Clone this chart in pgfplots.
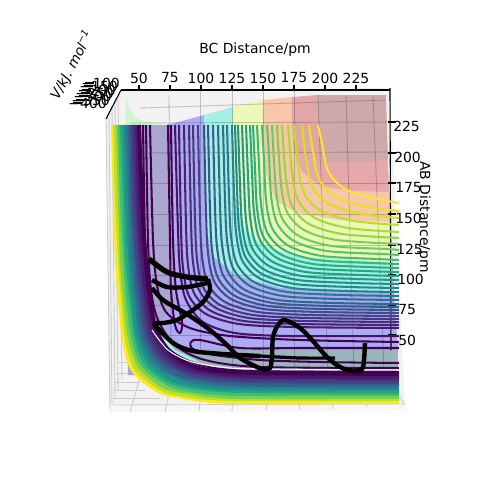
\documentclass[border=0pt]{standalone}
\usepackage{pgfplots}
\usepackage{fontspec}
\setmainfont{DejaVu Sans}
\pgfplotsset{compat=1.18}
% viridis, outer contour (yellow) to inner (purple)
\definecolor{c0}{HTML}{FDE725}\definecolor{c1}{HTML}{E8E419}\definecolor{c2}{HTML}{D2E21B}
\definecolor{c3}{HTML}{BDDF26}\definecolor{c4}{HTML}{A8DB34}\definecolor{c5}{HTML}{95D840}
\definecolor{c6}{HTML}{7AD151}\definecolor{c7}{HTML}{6ACD5B}\definecolor{c8}{HTML}{54C568}
\definecolor{c9}{HTML}{44BF70}\definecolor{c10}{HTML}{35B779}\definecolor{c11}{HTML}{2CB17E}
\definecolor{c12}{HTML}{22A884}\definecolor{c13}{HTML}{1FA088}\definecolor{c14}{HTML}{1F978B}
\definecolor{c15}{HTML}{21918C}\definecolor{c16}{HTML}{23898E}\definecolor{c17}{HTML}{26828E}
\definecolor{c18}{HTML}{2A788E}\definecolor{c19}{HTML}{2D708E}\definecolor{c20}{HTML}{31688E}
\definecolor{c21}{HTML}{355F8D}\definecolor{c22}{HTML}{39568C}\definecolor{c23}{HTML}{3D4E8A}
\definecolor{c24}{HTML}{414487}\definecolor{c25}{HTML}{453781}\definecolor{c26}{HTML}{472F7D}
\definecolor{c27}{HTML}{482475}\definecolor{c28}{HTML}{481B6D}\definecolor{c29}{HTML}{471365}
\definecolor{c30}{HTML}{440154}
\definecolor{bbase}{HTML}{A9A6D2}\definecolor{blav}{HTML}{AEABF5}\definecolor{bcyan}{HTML}{A4F0E4}
\definecolor{byel}{HTML}{ECF8B8}\definecolor{borg}{HTML}{F8C7A9}\definecolor{bpink}{HTML}{E6A8AA}
\definecolor{brose}{HTML}{CFA9A9}\definecolor{bteal}{HTML}{9AB5BB}\definecolor{btop}{HTML}{E0A6A8}
\definecolor{bgreen}{HTML}{CCF5D0}
\pgfplotsset{
  cont/.style={line width=1.4pt,smooth},
  wall/.style={line width=2.7pt,smooth},
  traj/.style={black,line width=3pt,smooth},
  wire/.style={black,opacity=0.2,line width=0.6pt},
  grey/.style={black!20,line width=0.6pt},
  ax/.style={black,line width=0.75pt},
}
\begin{document}
\begin{tikzpicture}
\path[use as bounding box] (0,0) rectangle (12cm,12cm);
\begin{axis}[
    at={(0,0)}, anchor=south west,
    scale only axis, width=12cm, height=12cm,
    xmin=0, xmax=500, ymin=0, ymax=500, y dir=reverse,
    hide axis, clip=false,
]
% panes
\addplot[fill=black!5,draw=none] coordinates {(121,90)(390,88)(405,404)(110,412)(106,120)} -- cycle;
\addplot[fill=black!3,draw=none] coordinates {(110,405)(405,404)(407,411)(110,412)} -- cycle;
% floor and wall grid
\addplot[grey] coordinates {(106,120)(110,410)};
\addplot[grey] coordinates {(109,114)(112,405)};
\addplot[grey] coordinates {(112,108)(115,398)};
\addplot[grey] coordinates {(115,102)(118,390)};
\addplot[grey] coordinates {(118,96)(122,380)};
\addplot[grey] coordinates {(113,405)(405,404)};
\addplot[grey] coordinates {(113,398)(160,398)};
\addplot[grey] coordinates {(114,390)(145,390)};
\addplot[grey] coordinates {(115,382)(140,382)};
\addplot[grey] coordinates {(116,373)(135,373)};
\addplot[grey] coordinates {(117,362)(130,362)};
\addplot[grey] coordinates {(130,412)(142,370)};
\addplot[grey] coordinates {(165,412)(170,388)};
\addplot[grey] coordinates {(199,411)(201,395)};
\addplot[grey] coordinates {(232,411)(233,398)};
\addplot[grey] coordinates {(266,410)(266,400)};
\addplot[grey] coordinates {(299,410)(299,400)};
\addplot[grey] coordinates {(333,409)(332,400)};
\addplot[grey] coordinates {(367,407)(366,400)};
\addplot[grey] coordinates {(399,396)(405,404)};
% surface behind the contours
\addplot[fill=bgreen,draw=none] coordinates {(126,96)(128,105)(133,115)(140,120)(150,123)(165,125)(126,125)} -- cycle;
\addplot[fill=blav,draw=none] coordinates {(165,125)(175,123)(204,115)(204,125)} -- cycle;
\addplot[fill=bcyan,draw=none] coordinates {(204,115)(233,107)(233,125)(204,125)} -- cycle;
\addplot[fill=byel,draw=none] coordinates {(233,107)(263,100)(263,125)(233,125)} -- cycle;
\addplot[fill=borg,draw=none] coordinates {(263,100)(292,97)(292,125)(263,125)} -- cycle;
% colour bands, each one the part above its level
\addplot[fill=bbase,draw=none] coordinates {(128,125)(386,125)(398,375)(128,375)} -- cycle;
\addplot[fill=blav,draw=none] coordinates {(172,125)(174,240)(176,300)(160,325)(185,350)(250,347)(398,347)(393,290)(389,200)(386,125)} -- cycle;
\addplot[fill=bteal,draw=none] coordinates {(185,353)(250,347)(398,347)(398,375)(200,375)} -- cycle;
\addplot[fill=bcyan,draw=none] coordinates {(155,325)(175,350)(200,362)(180,358)(165,345)} -- cycle;
\addplot[fill=bcyan,draw=none] coordinates {(204,125)(205,220)(212,255)(235,275)(280,288)(393,292)(389,200)(386,125)} -- cycle;
\addplot[fill=byel,draw=none] coordinates {(233,125)(234,190)(242,225)(262,245)(300,257)(392,262)(389,200)(386,125)} -- cycle;
\addplot[fill=borg,draw=none] coordinates {(263,125)(265,170)(275,200)(297,213)(340,220)(390,222)(389,200)(386,125)} -- cycle;
\addplot[fill=bpink,draw=none] coordinates {(292,125)(294,150)(302,172)(320,186)(355,191)(389,192)(386,125)} -- cycle;
\addplot[fill=brose,draw=none] coordinates {(318,95)(386,95)(388,160)(322,163)(318,125)} -- cycle;
\addplot[fill=btop,draw=none] coordinates {(292,97)(318,95)(318,125)(322,163)(294,150)(292,125)} -- cycle;
% wires of the surface
\addplot[wire] coordinates {(140,108)(386,100)};
\addplot[wire] coordinates {(130,123)(387,122)};
\addplot[wire] coordinates {(130,153)(388,152)};
\addplot[wire] coordinates {(130,183)(389,183)};
\addplot[wire] coordinates {(130,214)(390,214)};
\addplot[wire] coordinates {(130,245)(392,245)};
\addplot[wire] coordinates {(135,275)(393,275)};
\addplot[wire] coordinates {(140,305)(394,305)};
\addplot[wire] coordinates {(150,335)(395,335)};
\addplot[wire] coordinates {(169,95)(171,340)};
\addplot[wire] coordinates {(200,90)(200,350)};
\addplot[wire] coordinates {(232,90)(232,370)};
\addplot[wire] coordinates {(263,90)(263,372)};
\addplot[wire] coordinates {(294,90)(294,372)};
\addplot[wire] coordinates {(318,95)(328,372)};
\addplot[wire] coordinates {(346,95)(354,372)};
\addplot[wire] coordinates {(373,95)(384,372)};
% axis lines
\addplot[ax] coordinates {(121,90)(390,90)};
\addplot[ax] coordinates {(390,88)(391,350)};
\addplot[ax] coordinates {(121,90)(106,119)};
\addplot[ax] coordinates {(139,90)(139,85)};
\addplot[ax] coordinates {(170,90)(170,85)};
\addplot[ax] coordinates {(201,90)(201,85)};
\addplot[ax] coordinates {(232,90)(232,85)};
\addplot[ax] coordinates {(263,90)(263,85)};
\addplot[ax] coordinates {(294,90)(294,85)};
\addplot[ax] coordinates {(325,90)(325,85)};
\addplot[ax] coordinates {(356,90)(356,85)};
\addplot[ax] coordinates {(388,122)(396,122)};
\addplot[ax] coordinates {(388,153)(396,153)};
\addplot[ax] coordinates {(388,183)(396,183)};
\addplot[ax] coordinates {(388,214)(396,214)};
\addplot[ax] coordinates {(388,245)(396,245)};
\addplot[ax] coordinates {(388,275)(396,275)};
\addplot[ax] coordinates {(388,305)(396,305)};
\addplot[ax] coordinates {(388,335)(396,335)};
\addplot[ax] coordinates {(85,83)(94,83)};
\addplot[ax] coordinates {(84,86)(93,86)};
\addplot[ax] coordinates {(82,90)(91,90)};
\addplot[ax] coordinates {(81,93)(90,93)};
\addplot[ax] coordinates {(79,96)(88,96)};
\addplot[ax] coordinates {(76,100)(85,100)};
\addplot[ax] coordinates {(73,103)(82,103)};
% dense wall of contours
\addplot[wall,c0] coordinates {(113,125)(115,200)(117,260)(120,300)(124,340)(133,370)(157,390)(183,397)(233,402)(399,402)};
\addplot[wall,c3] coordinates {(115,125)(117,200)(120,259)(123,299)(127,339)(136,368)(160,388)(185,395)(235,399)(399,399)};
\addplot[wall,c6] coordinates {(118,125)(120,200)(122,258)(125,298)(130,338)(140,366)(163,386)(188,392)(237,397)(399,397)};
\addplot[wall,c9] coordinates {(120,125)(122,200)(125,257)(128,297)(133,337)(143,365)(166,383)(190,390)(239,394)(399,394)};
\addplot[wall,c12] coordinates {(122,125)(125,200)(127,256)(131,296)(136,336)(146,363)(169,381)(193,387)(241,391)(399,392)};
\addplot[wall,c15] coordinates {(125,125)(127,200)(130,255)(133,295)(138,335)(150,362)(172,379)(195,385)(243,389)(399,389)};
\addplot[wall,c18] coordinates {(127,125)(130,200)(132,255)(136,295)(141,335)(153,360)(175,376)(198,382)(245,386)(399,387)};
\addplot[wall,c21] coordinates {(130,125)(132,200)(135,254)(138,294)(144,334)(157,359)(178,374)(200,379)(247,384)(399,384)};
\addplot[wall,c24] coordinates {(132,125)(134,200)(137,253)(141,293)(147,333)(160,357)(181,371)(202,377)(249,381)(399,382)};
\addplot[wall,c26] coordinates {(134,125)(137,200)(140,252)(144,292)(150,332)(163,355)(184,369)(205,374)(251,378)(399,379)};
\addplot[wall,c28] coordinates {(137,125)(139,200)(142,251)(146,291)(153,331)(167,354)(187,367)(207,372)(253,376)(399,377)};
\addplot[wall,c30] coordinates {(139,125)(142,200)(145,250)(149,290)(156,330)(170,352)(190,365)(210,370)(255,373)(399,374)};
% L-shaped contours
\addplot[cont,c0] coordinates {(318,125)(322,143)(328,171)(345,189)(378,199)(399,203)};
\addplot[cont,c1] coordinates {(309,125)(313,151)(319,179)(336,197)(369,207)(399,211)};
\addplot[cont,c2] coordinates {(302,125)(306,158)(312,186)(329,204)(362,214)(399,218)};
\addplot[cont,c3] coordinates {(294,125)(298,165)(304,193)(321,211)(354,221)(399,225)};
\addplot[cont,c4] coordinates {(288,125)(292,172)(298,200)(315,218)(348,228)(399,232)};
\addplot[cont,c5] coordinates {(282,125)(286,178)(292,206)(309,224)(342,234)(399,238)};
\addplot[cont,c6] coordinates {(277,125)(281,184)(287,212)(304,230)(337,240)(399,244)};
\addplot[cont,c7] coordinates {(272,125)(276,190)(282,218)(299,236)(332,246)(387,249)(399,250)};
\addplot[cont,c8] coordinates {(267,125)(269,155)(271,195)(277,223)(294,241)(327,251)(382,254)(399,255)};
\addplot[cont,c9] coordinates {(262,125)(264,160)(266,200)(272,228)(289,246)(322,256)(377,259)(399,260)};
\addplot[cont,c10] coordinates {(257,125)(259,164)(261,204)(267,232)(284,250)(317,260)(372,263)(399,264)};
\addplot[cont,c11] coordinates {(253,125)(255,168)(257,208)(263,236)(280,254)(313,264)(368,267)(399,268)};
\addplot[cont,c12] coordinates {(250,125)(252,172)(254,212)(260,240)(277,258)(310,268)(365,271)(399,272)};
\addplot[cont,c13] coordinates {(246,125)(248,176)(250,216)(256,244)(273,262)(306,272)(361,275)(399,276)};
\addplot[cont,c14] coordinates {(242,125)(244,180)(246,220)(252,248)(269,266)(302,276)(357,279)(399,280)};
\addplot[cont,c15] coordinates {(238,125)(240,184)(242,224)(248,252)(265,270)(298,280)(353,283)(399,284)};
\addplot[cont,c16] coordinates {(235,125)(237,188)(239,228)(245,256)(262,274)(295,284)(350,287)(399,288)};
\addplot[cont,c17] coordinates {(232,125)(234,192)(236,232)(242,260)(259,278)(292,288)(347,291)(399,292)};
\addplot[cont,c18] coordinates {(227,125)(229,196)(231,236)(237,264)(254,282)(287,292)(342,295)(399,296)};
\addplot[cont,c19] coordinates {(223,125)(225,200)(227,240)(233,268)(250,286)(283,296)(338,299)(399,300)};
\addplot[cont,c20] coordinates {(218,125)(220,204)(222,244)(228,272)(245,290)(278,300)(333,303)(399,304)};
\addplot[cont,c21] coordinates {(213,125)(215,207)(217,247)(223,275)(240,293)(273,303)(328,306)(399,307)};
\addplot[cont,c22] coordinates {(208,125)(210,210)(212,250)(218,278)(235,296)(268,306)(323,309)(399,310)};
\addplot[cont,c23] coordinates {(204,125)(206,213)(208,253)(214,281)(231,299)(264,309)(319,312)(399,313)};
\addplot[cont,c24] coordinates {(198,125)(200,216)(202,256)(208,284)(225,302)(258,312)(313,315)(399,316)};
\addplot[cont,c25] coordinates {(193,125)(195,219)(197,259)(203,287)(220,305)(253,315)(308,318)(399,319)};
\addplot[cont,c26] coordinates {(189,125)(191,222)(193,262)(199,290)(216,308)(249,318)(304,321)(399,322)};
\addplot[cont,c27] coordinates {(184,125)(186,225)(188,265)(194,293)(211,311)(244,321)(299,324)(399,325)};
\addplot[cont,c28] coordinates {(179,125)(181,228)(183,268)(189,296)(206,314)(239,324)(294,327)(399,328)};
\addplot[cont,c29] coordinates {(175,125)(178,230)(180,270)(186,300)(203,322)(235,333)(290,336)(399,336)};
% fingers of the valley
\addplot[cont,c30] coordinates {(168,125)(170,240)(171,290)(175,325)(180,333)(182,322)(176,290)(173,240)(171,125)};
\addplot[cont,c30] coordinates {(399,348)(300,348)(240,348)(200,340)(191,342)(193,349)(215,355)(260,360)(320,362)(399,363)};
\addplot[cont,c30] coordinates {(150,125)(153,240)(157,285)(166,312)(190,328)(230,336)(300,340)(399,342)};
\addplot[cont,c30] coordinates {(146,125)(148,240)(151,290)(158,320)(175,345)(205,360)(260,367)(399,368)};
\addplot[cont,c30] coordinates {(143,125)(145,240)(148,290)(155,325)(170,350)(200,365)(250,371)(399,372)};
\addplot[white,line width=0.7pt,smooth] coordinates {(152,330)(168,350)(192,362)(230,368)(270,369)(399,370)};
% trajectory
\addplot[traj,line width=3.6pt] coordinates {(149,259)(167,272)(187,277)(208,279)};
\addplot[traj] coordinates {(208,279)(210,290)(203,302)(190,312)(177,320)(163,323)(155,323)};
\addplot[traj] coordinates {(152,280)(167,287)(187,287)(207,283)};
\addplot[traj] coordinates {(152,288)(163,300)(180,310)(193,318)(210,330)(227,345)(240,358)(257,367)(263,369)(270,368)(272,357)(273,337)(278,325)(285,320)(300,328)(312,340)(327,357)(340,367)(353,371)(362,369)(364,360)(365,343)};
\addplot[traj] coordinates {(153,323)(173,343)(193,351)(223,354)(260,356)};
\addplot[traj,line width=2.2pt] coordinates {(260,356)(300,358)(335,358)};
% text
\node[font=\fontsize{9.5}{11}\selectfont] at (axis cs:255,50) {BC Distance/pm};
\node[font=\fontsize{9.5}{11}\selectfont,rotate=62] at (axis cs:72,65) {\textit{V/kJ. mol}\textsuperscript{\textit{−1}}};
\node[font=\fontsize{9.5}{11}\selectfont,rotate=-90] at (axis cs:424,217) {AB Distance/pm};
\node[font=\fontsize{9.5}{11}\selectfont] at (axis cs:139,78) {50};
\node[font=\fontsize{9.5}{11}\selectfont] at (axis cs:170,78) {75};
\node[font=\fontsize{9.5}{11}\selectfont] at (axis cs:201,78) {100};
\node[font=\fontsize{9.5}{11}\selectfont] at (axis cs:232,78) {125};
\node[font=\fontsize{9.5}{11}\selectfont] at (axis cs:263,78) {150};
\node[font=\fontsize{9.5}{11}\selectfont] at (axis cs:294,78) {175};
\node[font=\fontsize{9.5}{11}\selectfont] at (axis cs:325,78) {200};
\node[font=\fontsize{9.5}{11}\selectfont] at (axis cs:356,78) {225};
\node[font=\fontsize{9.5}{11}\selectfont,anchor=west,inner sep=0pt] at (axis cs:393,126) {225};
\node[font=\fontsize{9.5}{11}\selectfont,anchor=west,inner sep=0pt] at (axis cs:394,157) {200};
\node[font=\fontsize{9.5}{11}\selectfont,anchor=west,inner sep=0pt] at (axis cs:395,188) {175};
\node[font=\fontsize{9.5}{11}\selectfont,anchor=west,inner sep=0pt] at (axis cs:395,218) {150};
\node[font=\fontsize{9.5}{11}\selectfont,anchor=west,inner sep=0pt] at (axis cs:396,249) {125};
\node[font=\fontsize{9.5}{11}\selectfont,anchor=west,inner sep=0pt] at (axis cs:397,279) {100};
\node[font=\fontsize{9.5}{11}\selectfont,anchor=west,inner sep=0pt] at (axis cs:398,310) {75};
\node[font=\fontsize{9.5}{11}\selectfont,anchor=west,inner sep=0pt] at (axis cs:398,340) {50};
\node[font=\fontsize{9.5}{11}\selectfont,anchor=east,inner sep=0pt] at (axis cs:120,83) {−100};
\node[font=\fontsize{9.5}{11}\selectfont,anchor=east,inner sep=0pt] at (axis cs:118,86) {−150};
\node[font=\fontsize{9.5}{11}\selectfont,anchor=east,inner sep=0pt] at (axis cs:116,90) {−200};
\node[font=\fontsize{9.5}{11}\selectfont,anchor=east,inner sep=0pt] at (axis cs:114,93) {−250};
\node[font=\fontsize{9.5}{11}\selectfont,anchor=east,inner sep=0pt] at (axis cs:112,96) {−300};
\node[font=\fontsize{9.5}{11}\selectfont,anchor=east,inner sep=0pt] at (axis cs:110,100) {−350};
\node[font=\fontsize{9.5}{11}\selectfont,anchor=east,inner sep=0pt] at (axis cs:107,103) {−400};
\end{axis}
\end{tikzpicture}
\end{document}
